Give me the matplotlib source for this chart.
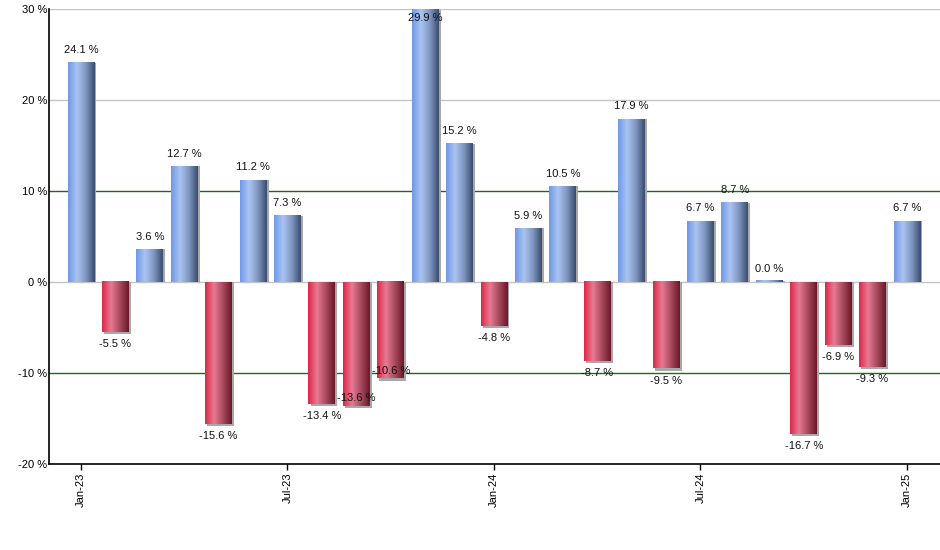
import numpy as np
import matplotlib.pyplot as plt
from matplotlib.colors import LinearSegmentedColormap
from matplotlib.patches import Rectangle

# monthly returns, Jan-23 .. Jan-25
months = ["Jan-23", "Feb-23", "Mar-23", "Apr-23", "May-23", "Jun-23", "Jul-23",
          "Aug-23", "Sep-23", "Oct-23", "Nov-23", "Dec-23", "Jan-24", "Feb-24",
          "Mar-24", "Apr-24", "May-24", "Jun-24", "Jul-24", "Aug-24", "Sep-24",
          "Oct-24", "Nov-24", "Dec-24", "Jan-25"]
returns = [24.1, -5.5, 3.6, 12.7, -15.6, 11.2, 7.3, -13.4, -13.6, -10.6, 29.9,
           15.2, -4.8, 5.9, 10.5, -8.7, 17.9, -9.5, 6.7, 8.7, 0.0, -16.7, -6.9,
           -9.3, 6.7]
tick_labels = ["Jan-23", "Jul-23", "Jan-24", "Jul-24", "Jan-25"]
y_ticks = [-20, -10, 0, 10, 20, 30]

# labels that the original chart pulled inside the bar end to avoid overlaps
inside_labels = ["Sep-23", "Oct-23", "Nov-23"]

plt.rcParams['font.family'] = ['Liberation Sans', 'DejaVu Sans']

blue = LinearSegmentedColormap.from_list(
    "blue", ["#6f98e6", "#aac4f2", "#7f96bf", "#3a4d70"], N=64)
red = LinearSegmentedColormap.from_list(
    "red", ["#dc2848", "#e87a92", "#a84a5e", "#6c1828"], N=64)
grad = np.linspace(0, 1, 64).reshape(1, -1)

fig = plt.figure(figsize=(9.4, 5.5), dpi=100)
ax = fig.add_axes([49 / 940, 1 - 464 / 550, 891 / 940, 455 / 550])

x = np.arange(len(months))
width = 0.78
ymin, ymax = -20, 30

for xi, v, m in zip(x, returns, months):
    cmap = blue if v >= 0 else red
    h = min(v, ymax)
    if abs(h) < 0.05:
        h = 0.15  # zero month drawn as a thin sliver
    # soft gray shadow on the right / lower side
    sh = h - 0.25 if h < 0 else h
    ax.add_patch(Rectangle((xi - width / 2 + 0.06, 0), width, sh,
                           facecolor="#a8a8a8", edgecolor="none", zorder=2))
    ax.imshow(grad, cmap=cmap, aspect="auto", interpolation="bilinear",
              extent=[xi - width / 2, xi + width / 2, min(0, h), max(0, h)],
              zorder=3)
    if m in inside_labels:
        off = -0.85 if v >= 0 else 0.85
    else:
        off = 1.4 if v >= 0 else -1.35
    ax.text(xi, min(v, ymax) + off, f"{v:.1f} %", ha="center", va="center",
            fontsize=8, color="#111111", zorder=5)

for gy in [0, 20, 30]:
    ax.axhline(gy, color="#c4c4c4", lw=1.0, zorder=1)
for gy in [-10, 10]:
    ax.axhline(gy, color="#1a6b1a", lw=1.0, zorder=1)

ax.set_xlim(-0.93, len(months) - 1 + 0.96)
ax.set_ylim(ymin, ymax)
ax.set_xticks([months.index(t) for t in tick_labels])
ax.set_xticklabels(tick_labels, rotation=90, fontsize=8)
ax.set_yticks(y_ticks)
ax.set_yticklabels([f"{t} %" for t in y_ticks], fontsize=8)
ax.tick_params(axis="y", length=0, pad=1.5)
ax.tick_params(axis="x", length=4, width=1, pad=2)
for s in ["top", "right"]:
    ax.spines[s].set_visible(False)
for s in ["left", "bottom"]:
    ax.spines[s].set_linewidth(1.2)
    ax.spines[s].set_zorder(6)

fig.savefig("out.png", dpi=100)
